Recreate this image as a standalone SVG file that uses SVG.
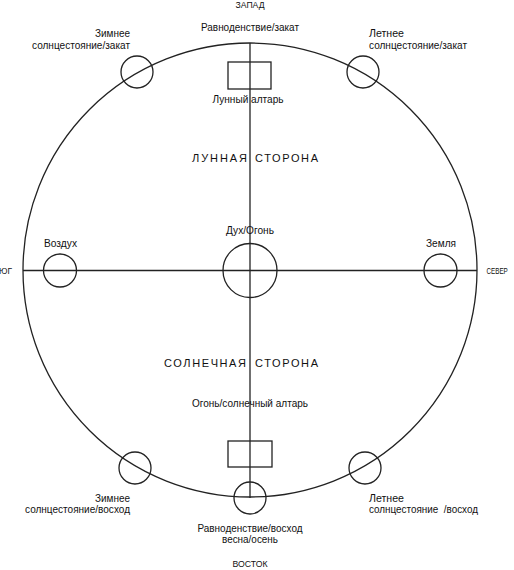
<svg xmlns="http://www.w3.org/2000/svg" width="514" height="570" viewBox="0 0 514 570">
<style>
.ln{fill:none;stroke:#222;stroke-width:1.3}
.t{font-family:"Liberation Sans Narrow","Liberation Sans",Arial,sans-serif;font-size:11px;fill:#111}
.s{font-family:"Liberation Sans",Arial,sans-serif;font-size:9px;fill:#111}
.w{font-family:"Liberation Sans",Arial,sans-serif;font-size:11px;fill:#111}
.m{text-anchor:middle}
.e{text-anchor:end}
</style>
<rect width="514" height="570" fill="#fff"/>
<g id="boundary"><circle class="ln" cx="250" cy="270" r="227"/></g>
<g id="connectors">
<line class="ln" x1="250" y1="43" x2="250" y2="498"/>
<line class="ln" x1="23" y1="270.5" x2="477" y2="270.5"/>
</g>
<g id="west"><text class="s m" x="250" y="8" textLength="29" lengthAdjust="spacingAndGlyphs">ЗАПАД</text></g>
<g id="east"><text class="s m" x="250" y="567" textLength="35" lengthAdjust="spacingAndGlyphs">ВОСТОК</text></g>
<g id="south"><text class="s" x="-1" y="274" textLength="13" lengthAdjust="spacingAndGlyphs">ЮГ</text></g>
<g id="north"><text class="s" transform="translate(486.5 274) scale(0.7 1)" x="0" y="0">СЕВЕР</text></g>
<g id="equinox-sunset">
<text class="t m" x="250" y="31" textLength="98" lengthAdjust="spacingAndGlyphs">Равноденствие/закат</text>
</g>
<g id="lunar-altar">
<rect class="ln" x="228" y="62" width="43" height="27"/>
<text class="t m" x="248" y="103" textLength="71" lengthAdjust="spacingAndGlyphs">Лунный алтарь</text>
</g>
<g id="winter-sunset">
<circle class="ln" cx="137" cy="72" r="16"/>
<text class="t e" x="130" y="37" textLength="35" lengthAdjust="spacingAndGlyphs">Зимнее</text>
<text class="t e" x="130" y="49" textLength="98" lengthAdjust="spacingAndGlyphs">солнцестояние/закат</text>
</g>
<g id="summer-sunset">
<circle class="ln" cx="363" cy="72" r="16"/>
<text class="t" x="369" y="37" textLength="35" lengthAdjust="spacingAndGlyphs">Летнее</text>
<text class="t" x="369" y="49" textLength="98" lengthAdjust="spacingAndGlyphs">солнцестояние/закат</text>
</g>
<g id="lunar-side">
<text class="w" x="192" y="162" textLength="55" lengthAdjust="spacing">ЛУННАЯ</text>
<text class="w" x="255" y="162" textLength="63" lengthAdjust="spacing">СТОРОНА</text>
</g>
<g id="spirit-fire">
<circle class="ln" cx="250" cy="270.5" r="27"/>
<text class="t m" x="250" y="234" textLength="48" lengthAdjust="spacingAndGlyphs">Дух/Огонь</text>
</g>
<g id="air">
<circle class="ln" cx="60" cy="270.5" r="16.5"/>
<text class="t m" x="60.5" y="247" textLength="33" lengthAdjust="spacingAndGlyphs">Воздух</text>
</g>
<g id="earth">
<circle class="ln" cx="440.5" cy="270.5" r="16.5"/>
<text class="t m" x="441" y="247" textLength="30" lengthAdjust="spacingAndGlyphs">Земля</text>
</g>
<g id="solar-side">
<text class="w" x="164" y="367" textLength="82" lengthAdjust="spacing">СОЛНЕЧНАЯ</text>
<text class="w" x="255" y="367" textLength="63" lengthAdjust="spacing">СТОРОНА</text>
</g>
<g id="solar-altar">
<text class="t m" x="250" y="407" textLength="116" lengthAdjust="spacingAndGlyphs">Огонь/солнечный алтарь</text>
<rect class="ln" x="228" y="441" width="44" height="26"/>
</g>
<g id="winter-sunrise">
<circle class="ln" cx="135" cy="468" r="16"/>
<text class="t e" x="130" y="502" textLength="35" lengthAdjust="spacingAndGlyphs">Зимнее</text>
<text class="t e" x="130" y="513" textLength="105" lengthAdjust="spacingAndGlyphs">солнцестояние/восход</text>
</g>
<g id="summer-sunrise">
<circle class="ln" cx="365" cy="468" r="16"/>
<text class="t" x="369" y="502" textLength="35" lengthAdjust="spacingAndGlyphs">Летнее</text>
<text class="t" x="369" y="513" textLength="109" lengthAdjust="spacingAndGlyphs" xml:space="preserve">солнцестояние  /восход</text>
</g>
<g id="equinox-sunrise">
<circle class="ln" cx="250" cy="498" r="16"/>
<text class="t m" x="250" y="532" textLength="105" lengthAdjust="spacingAndGlyphs">Равноденствие/восход</text>
<text class="t m" x="250" y="543" textLength="56" lengthAdjust="spacingAndGlyphs">весна/осень</text>
</g>
</svg>
